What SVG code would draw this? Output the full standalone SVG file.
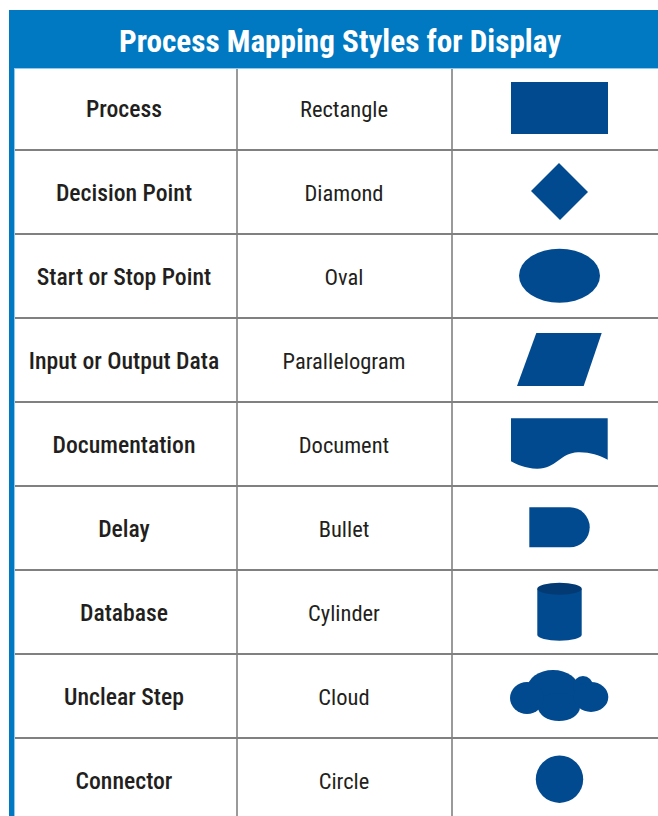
<svg xmlns="http://www.w3.org/2000/svg" width="658" height="816" viewBox="0 0 658 816">
<style>
.cell{font-family:"Roboto Condensed","Liberation Sans Narrow","Liberation Sans",sans-serif;font-size:22.5px;fill:#231f20;text-anchor:middle}
.b{font-weight:500;font-size:23.7px}
.hl{stroke:#808080;stroke-width:2}
.vl{stroke:#9a9a9a;stroke-width:2}
.shape{fill:#024a8f}
</style>
<rect x="0" y="0" width="658" height="816" fill="#ffffff"/>
<g id="header">
<rect x="9" y="10" width="649" height="58" fill="#0079c2"/>
<line x1="9" y1="68.5" x2="658" y2="68.5" stroke="#8ccaf0" stroke-width="1"/>
<text x="340" y="52" font-family="'Roboto Condensed','Liberation Sans',sans-serif" font-size="31.2" font-weight="bold" fill="#ffffff" text-anchor="middle">Process Mapping Styles for Display</text>
</g>
<g id="grid">
<rect x="9" y="68" width="5" height="748" fill="#0079c2"/>
<line x1="14.5" y1="68" x2="14.5" y2="816" stroke="#8ccaf0" stroke-width="1"/>
<line class="vl" x1="237" y1="69" x2="237" y2="816"/>
<line class="vl" x1="452" y1="69" x2="452" y2="816"/>
<line class="hl" x1="15" y1="150" x2="658" y2="150"/>
<line class="hl" x1="15" y1="234" x2="658" y2="234"/>
<line class="hl" x1="15" y1="318" x2="658" y2="318"/>
<line class="hl" x1="15" y1="402" x2="658" y2="402"/>
<line class="hl" x1="15" y1="486" x2="658" y2="486"/>
<line class="hl" x1="15" y1="570" x2="658" y2="570"/>
<line class="hl" x1="15" y1="654" x2="658" y2="654"/>
<line class="hl" x1="15" y1="738" x2="658" y2="738"/>
</g>
<g id="row-process">
<text class="cell b" x="124" y="117">Process</text>
<text class="cell" x="344" y="117">Rectangle</text>
<rect class="shape" x="511" y="82" width="97" height="52"/>
</g>
<g id="row-decision">
<text class="cell b" x="124" y="201">Decision Point</text>
<text class="cell" x="344" y="201">Diamond</text>
<polygon class="shape" points="559,163 588,192 560,220 531,191"/>
</g>
<g id="row-start">
<text class="cell b" x="124" y="285">Start or Stop Point</text>
<text class="cell" x="344" y="285">Oval</text>
<ellipse class="shape" cx="559.5" cy="275.7" rx="40.5" ry="27"/>
</g>
<g id="row-io">
<text class="cell b" x="124" y="369">Input or Output Data</text>
<text class="cell" x="344" y="369">Parallelogram</text>
<polygon class="shape" points="536.3,333 601.7,333 583.7,386 517,386"/>
</g>
<g id="row-doc">
<text class="cell b" x="124" y="453">Documentation</text>
<text class="cell" x="344" y="453">Document</text>
<path class="shape" d="M511,418.3 H607.7 V459.7 C598,455 590,452 578,452.3 C560,453 556,469 537,468.7 C525,468.5 517,464.5 511,461.3 Z"/>
</g>
<g id="row-delay">
<text class="cell b" x="124" y="537">Delay</text>
<text class="cell" x="344" y="537">Bullet</text>
<path class="shape" d="M529.3,507.3 H570 A19.7,20 0 0 1 570,547.3 H529.3 Z"/>
</g>
<g id="row-database">
<text class="cell b" x="124" y="621">Database</text>
<text class="cell" x="344" y="621">Cylinder</text>
<path class="shape" d="M537.3,588.7 V634.7 A22.2,6 0 0 0 581.7,634.7 V588.7 Z"/>
<ellipse cx="559.5" cy="588.7" rx="22.2" ry="6" fill="#033a73"/>
</g>
<g id="row-cloud">
<text class="cell b" x="124" y="705">Unclear Step</text>
<text class="cell" x="344" y="705">Cloud</text>
<g class="shape">
<ellipse cx="553" cy="689" rx="26" ry="19"/>
<circle cx="583" cy="686" r="10"/>
<ellipse cx="559" cy="707" rx="21" ry="14"/>
<ellipse cx="527" cy="698" rx="17" ry="16"/>
<ellipse cx="591" cy="697" rx="17.3" ry="15"/>
</g>
</g>
<g id="row-connector">
<text class="cell b" x="124" y="789">Connector</text>
<text class="cell" x="344" y="789">Circle</text>
<circle class="shape" cx="559.5" cy="779.2" r="23.7"/>
</g>
</svg>
